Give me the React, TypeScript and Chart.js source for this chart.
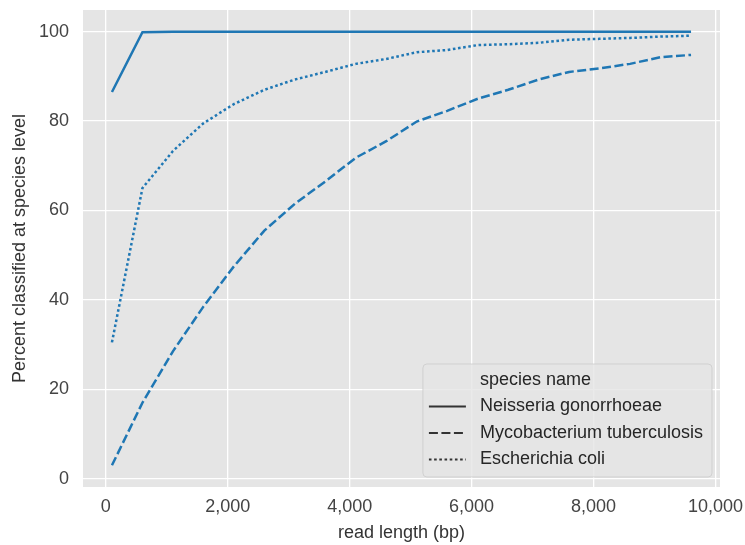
import React, { useEffect, useRef } from "react";
import { Chart, registerables } from "chart.js";

Chart.register(...registerables);

const READ_LENGTHS = [100, 600, 1100, 1600, 2100, 2600, 3100, 3600, 4100, 4600, 5100, 5600, 6100, 6600, 7100, 7600, 8100, 8600, 9100, 9600];
const NEISSERIA = [86.5, 99.9, 100, 100, 100, 100, 100, 100, 100, 100, 100, 100, 100, 100, 100, 100, 100, 100, 100, 100];
const MYCOBACTERIUM = [3, 17, 28.5, 38.5, 47.5, 55.5, 61.5, 66.5, 71.8, 75.5, 79.9, 82.3, 85, 87, 89.3, 91, 91.8, 92.8, 94.3, 94.8];
const ECOLI = [30.5, 65, 73.3, 79.5, 83.8, 87, 89.3, 91, 92.8, 93.9, 95.4, 95.9, 97, 97.2, 97.5, 98.2, 98.4, 98.6, 98.9, 99.1];
const SERIES_NAMES = ["Neisseria gonorrhoeae", "Mycobacterium tuberculosis", "Escherichia coli"];
const X_TICKS = [0, 2000, 4000, 6000, 8000, 10000];
const Y_TICKS = [0, 20, 40, 60, 80, 100];
const LEGEND_TITLE = "species name";
const X_LABEL = "read length (bp)";
const Y_LABEL = "Percent classified at species level";

const FONT = "'Liberation Sans', Arial, Helvetica, sans-serif";
const FONT_SIZE = 18;
const LINE_COLOR = "#1f77b4";
const DASHES = [[], [9, 3.5], [2.6, 2.6]];

const bgPlugin = {
  id: "bgPlugin",
  beforeDraw(chart: any) {
    const { ctx, chartArea } = chart;
    ctx.save();
    ctx.fillStyle = "#e5e5e5";
    ctx.fillRect(chartArea.left, chartArea.top, chartArea.right - chartArea.left, chartArea.bottom - chartArea.top);
    ctx.restore();
  },
};

const legendPlugin = {
  id: "customLegend",
  afterDraw(chart: any) {
    const { ctx, chartArea } = chart;
    ctx.save();
    ctx.font = `${FONT_SIZE}px ${FONT}`;
    const labels = chart.data.datasets.map((d: any) => d.label);
    let maxW = ctx.measureText(LEGEND_TITLE).width;
    labels.forEach((l: string) => { maxW = Math.max(maxW, ctx.measureText(l).width); });
    const w = maxW + 66;
    const h = 113;
    const right = chartArea.right - 8;
    const bottom = chartArea.bottom - 10;
    const left = right - w;
    const top = bottom - h;
    ctx.beginPath();
    ctx.roundRect(left, top, w, h, 4);
    ctx.fillStyle = "rgba(229,229,229,0.8)";
    ctx.fill();
    ctx.strokeStyle = "rgba(204,204,204,0.8)";
    ctx.lineWidth = 1;
    ctx.stroke();
    ctx.fillStyle = "#262626";
    ctx.textBaseline = "middle";
    ctx.textAlign = "left";
    const textX = left + 57;
    const rowH = 26.5;
    const firstY = top + 16;
    ctx.fillText(LEGEND_TITLE, textX, firstY);
    chart.data.datasets.forEach((d: any, i: number) => {
      const y = firstY + rowH * (i + 1);
      ctx.fillStyle = "#262626";
      ctx.fillText(d.label, textX, y);
      ctx.beginPath();
      ctx.setLineDash(d.borderDash || []);
      ctx.strokeStyle = "#333333";
      ctx.lineWidth = 2.2;
      ctx.moveTo(left + 6, y);
      ctx.lineTo(left + 43, y);
      ctx.stroke();
    });
    ctx.restore();
  },
};

export default function App() {
  const canvasRef = useRef<HTMLCanvasElement | null>(null);

  useEffect(() => {
    const canvas = canvasRef.current;
    if (!canvas) return;
    const seriesValues = [NEISSERIA, MYCOBACTERIUM, ECOLI];
    const datasets = seriesValues.map((vals, i) => ({
      label: SERIES_NAMES[i],
      data: READ_LENGTHS.map((x, j) => ({ x, y: vals[j] })),
      borderColor: LINE_COLOR,
      backgroundColor: LINE_COLOR,
      borderWidth: 2.5,
      borderDash: DASHES[i],
      pointRadius: 0,
      tension: 0,
      fill: false,
    }));

    const chart = new Chart(canvas, {
      type: "line",
      data: { datasets },
      options: {
        responsive: false,
        animation: false,
        layout: { padding: { left: 0, right: 25, top: 10, bottom: 0 } },
        plugins: {
          legend: { display: false },
          tooltip: { enabled: false },
        },
        scales: {
          x: {
            type: "linear",
            min: -375,
            max: 10075,
            afterFit(scale: any) {
              scale.height = 58;
              scale.paddingLeft = 0;
              scale.paddingRight = 0;
            },
            afterBuildTicks(scale: any) { scale.ticks = X_TICKS.map((v) => ({ value: v })); },
            grid: { color: "#ffffff", lineWidth: 1.3, drawTicks: false },
            border: { display: false },
            ticks: {
              padding: 9,
              color: "#444444",
              font: { family: FONT, size: FONT_SIZE },
              maxRotation: 0,
              autoSkip: false,
              callback: (v: any) => Number(v).toLocaleString("en-US"),
            },
            title: {
              display: true,
              text: X_LABEL,
              color: "#333333",
              font: { family: FONT, size: FONT_SIZE },
              padding: { top: 0, bottom: 1 },
            },
          },
          y: {
            type: "linear",
            min: -1.85,
            max: 104.85,
            afterFit(scale: any) {
              scale.width = 83;
              scale.paddingTop = 0;
              scale.paddingBottom = 0;
            },
            afterBuildTicks(scale: any) { scale.ticks = Y_TICKS.map((v) => ({ value: v })); },
            grid: { color: "#ffffff", lineWidth: 1.3, drawTicks: false },
            border: { display: false },
            ticks: {
              padding: 14,
              color: "#444444",
              font: { family: FONT, size: FONT_SIZE },
              autoSkip: false,
              callback: (v: any) => String(v),
            },
            title: {
              display: true,
              text: Y_LABEL,
              color: "#333333",
              font: { family: FONT, size: FONT_SIZE },
              padding: { top: 9, bottom: 0 },
            },
          },
        },
      },
      plugins: [bgPlugin, legendPlugin],
    } as any);

    return () => chart.destroy();
  }, []);

  return (
    <div style={{ position: "fixed", left: 0, top: 0, width: 745, height: 545, background: "#ffffff" }}>
      <canvas ref={canvasRef} width={745} height={545} style={{ width: 745, height: 545, display: "block" }} />
    </div>
  );
}
